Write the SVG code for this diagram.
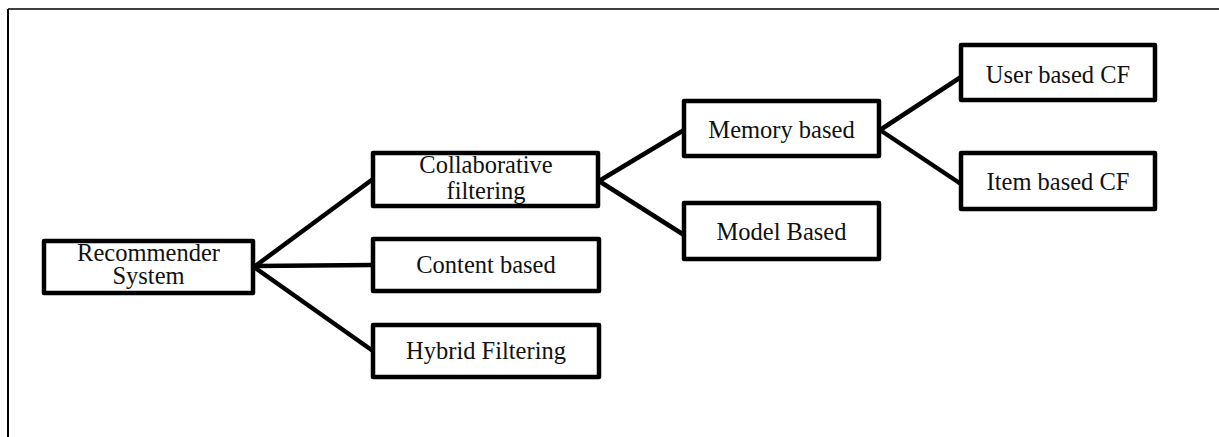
<svg xmlns="http://www.w3.org/2000/svg" width="1219" height="437" viewBox="0 0 1219 437">
<style>
.bg{fill:#fff;stroke:none}
.bx{fill:none;stroke:#000;stroke-width:4.5;stroke-linejoin:round}
.t{font-family:"Liberation Serif","Times New Roman",serif;font-size:24.5px;fill:#111;text-anchor:middle}
.c line{stroke:#000;stroke-width:4.5;stroke-linecap:butt}
</style>
<rect x="0" y="0" width="1219" height="437" fill="#fff"/>
<g id="frame">
<line x1="8" y1="9" x2="1219" y2="9" stroke="#000" stroke-width="1.5"/>
<line x1="8" y1="9" x2="8" y2="437" stroke="#000" stroke-width="2"/>
</g>
<g id="connectors" class="c">
<line x1="254" y1="267" x2="373" y2="179"/>
<line x1="254" y1="266" x2="373" y2="265"/>
<line x1="254" y1="267" x2="373" y2="351"/>
<line x1="599" y1="181" x2="684" y2="130"/>
<line x1="599" y1="181" x2="684" y2="235"/>
<line x1="880" y1="130" x2="961" y2="77"/>
<line x1="880" y1="130" x2="961" y2="184"/>
</g>
<g id="recommender">
<rect class="bg" x="44" y="241" width="209" height="52"/>
<text class="t" x="148.5" y="261">Recommender</text>
<text class="t" x="148.5" y="284">System</text>
<rect class="bx" x="44" y="241" width="209" height="52"/>
</g>
<g id="collaborative">
<rect class="bg" x="373" y="153" width="225" height="53"/>
<text class="t" x="486" y="173">Collaborative</text>
<text class="t" x="486" y="199">filtering</text>
<rect class="bx" x="373" y="153" width="225" height="53"/>
</g>
<g id="content">
<rect class="bg" x="373" y="239" width="226" height="52"/>
<text class="t" x="486" y="273">Content based</text>
<rect class="bx" x="373" y="239" width="226" height="52"/>
</g>
<g id="hybrid">
<rect class="bg" x="373" y="325" width="226" height="52"/>
<text class="t" x="486" y="359">Hybrid Filtering</text>
<rect class="bx" x="373" y="325" width="226" height="52"/>
</g>
<g id="memory">
<rect class="bg" x="684" y="101" width="195" height="55"/>
<text class="t" x="781.5" y="138">Memory based</text>
<rect class="bx" x="684" y="101" width="195" height="55"/>
</g>
<g id="model">
<rect class="bg" x="684" y="203" width="195" height="56"/>
<text class="t" x="781.5" y="240">Model Based</text>
<rect class="bx" x="684" y="203" width="195" height="56"/>
</g>
<g id="userbased">
<rect class="bg" x="961" y="45" width="194" height="55"/>
<text class="t" x="1058" y="83">User based CF</text>
<rect class="bx" x="961" y="45" width="194" height="55"/>
</g>
<g id="itembased">
<rect class="bg" x="961" y="153" width="194" height="56"/>
<text class="t" x="1058" y="190">Item based CF</text>
<rect class="bx" x="961" y="153" width="194" height="56"/>
</g>
</svg>
